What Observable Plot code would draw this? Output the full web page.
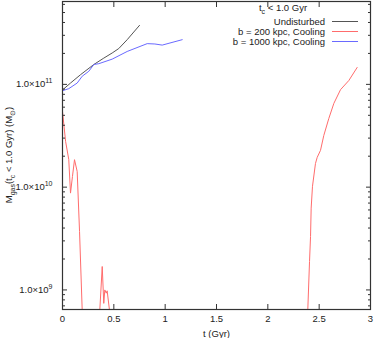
<!DOCTYPE html>
<html><head><meta charset="utf-8">
<script src="https://cdn.jsdelivr.net/npm/d3@7"></script>
<script src="https://cdn.jsdelivr.net/npm/@observablehq/plot@0.6"></script>
<style>body{margin:0;background:#fff} svg{display:block}</style>
</head><body><div id="chart"></div>
<script>
// ---- data ----
const undisturbedT = [0.003, 0.078, 0.175, 0.305, 0.402, 0.484, 0.548, 0.63, 0.75];
const undisturbedM = [8.87e10, 1.03e11, 1.24e11, 1.56e11, 1.80e11, 2.02e11, 2.23e11, 2.72e11, 3.75e11];

const b1000T = [0.003, 0.061, 0.143, 0.192, 0.256, 0.305, 0.354, 0.484, 0.63, 0.825, 0.90, 0.971, 1.166];
const b1000M = [8.69e10, 9.08e10, 1.03e11, 1.20e11, 1.34e11, 1.56e11, 1.59e11, 1.76e11, 2.09e11, 2.49e11, 2.47e11, 2.41e11, 2.72e11];

const b200T = [0, 0.03, 0.061, 0.078, 0.097, 0.117, 0.143, 0.166, 0.192, 0.2, 0.355, 0.363, 0.387, 0.402, 0.412, 0.426, 0.435, 0.458, 0.466, 2.38, 2.389, 2.406, 2.416, 2.422, 2.435, 2.464, 2.481, 2.513, 2.545, 2.594, 2.643, 2.708, 2.789, 2.870];
const b200M = [5.46e10, 2.79e10, 1.86e10, 8.75e9, 1.27e10, 1.85e10, 1.42e10, 3.71e9, 6.3e8, 1e8, 1e8, 6.3e8, 1.69e9, 7.4e8, 1.0e9, 9.3e8, 9.8e8, 6.3e8, 1e8, 1e8, 6.3e8, 1.89e9, 3.31e9, 6.25e9, 1.02e10, 1.70e10, 1.95e10, 2.28e10, 3.18e10, 4.66e10, 6.53e10, 8.88e10, 1.09e11, 1.46e11];

const seriesNames = ["Undisturbed", "b = 200 kpc, Cooling", "b = 1000 kpc, Cooling"];
const seriesColors = ["#555555", "#ff6c6c", "#6a6aff"];
const legendTitle = "t_c < 1.0 Gyr";

const xTicks = [0, 0.5, 1, 1.5, 2, 2.5, 3];
const yMajorTicks = [1e9, 1e10, 1e11];
const yDomain = [6.45e8, 6.4e11];
const xDomain = [0, 3];

// ---- build ----
const toRows = (T, M, s) => T.map((t, i) => ({t, m: M[i], s}));
const rows = [
  ...toRows(undisturbedT, undisturbedM, seriesNames[0]),
  ...toRows(b200T, b200M, seriesNames[1]),
  ...toRows(b1000T, b1000M, seriesNames[2])
];
const yMinor = [];
for (let e = 8; e <= 11; e++) for (let k = 2; k <= 9; k++) {
  const v = k * Math.pow(10, e);
  if (v > yDomain[0] && v < yDomain[1]) yMinor.push(v);
}

const font = "'Liberation Sans', Arial, Helvetica, sans-serif";
const plot = Plot.plot({
  width: 374, height: 338,
  marginLeft: 62, marginRight: 4, marginTop: 1, marginBottom: 29,
  style: {fontFamily: font, fontSize: "9.5px", color: "#222", background: "#fff"},
  x: {domain: xDomain},
  y: {type: "log", domain: yDomain},
  color: {domain: seriesNames, range: seriesColors},
  marks: [
    Plot.line(rows, {x: "t", y: "m", z: "s", stroke: "s", strokeWidth: 1, clip: true}),
    Plot.axisX({ticks: xTicks, tickSize: 0, tickPadding: 6, tickFormat: d => String(d),
      label: "t (Gyr)", labelAnchor: "center", labelOffset: 27, labelArrow: "none"}),
    Plot.axisY({ticks: yMajorTicks, tickSize: 0, tickPadding: 10, label: null,
      tickFormat: d => "1.0×10^" + Math.round(Math.log10(d))}),
    Plot.axisX({ticks: xTicks, tickSize: -5, fill: "none", label: null, stroke: "#333"}),
    Plot.axisX({anchor: "top", ticks: xTicks, tickSize: -5, fill: "none", label: null, stroke: "#333"}),
    Plot.axisY({ticks: yMajorTicks, tickSize: -5, fill: "none", label: null, stroke: "#333"}),
    Plot.axisY({anchor: "right", ticks: yMajorTicks, tickSize: -5, fill: "none", label: null, stroke: "#333"}),
    Plot.axisY({ticks: yMinor, tickSize: -3, fill: "none", label: null, stroke: "#333"}),
    Plot.axisY({anchor: "right", ticks: yMinor, tickSize: -3, fill: "none", label: null, stroke: "#333"}),
    Plot.frame({stroke: "#333", strokeWidth: 1.2})
  ]
});
document.getElementById("chart").appendChild(plot);

const svg = d3.select(plot);

svg.selectAll("text").each(function() {
  const el = d3.select(this);
  const m = /^1\.0×10\^(\d+)$/.exec(el.text());
  if (m) {
    el.text("");
    el.append("tspan").text("1.0×10");
    el.append("tspan").attr("dy", "-4").attr("font-size", "7px").text(m[1]);
  }
});

function rich(sel, parts) {
  let shifted = false;
  parts.forEach(([t, kind]) => {
    const ts = sel.append("tspan").text(t);
    if (kind === "sub" && !shifted) { ts.attr("dy", 2.5).attr("font-size", "7px"); shifted = true; }
    else if (kind !== "sub" && shifted) { ts.attr("dy", -2.5); shifted = false; }
  });
}

const yl = svg.append("text")
  .attr("transform", "translate(12,155) rotate(-90)")
  .attr("text-anchor", "middle").attr("fill", "#222")
  .attr("font-family", font).attr("font-size", "9.5px");
rich(yl, [["M", "n"], ["gas", "sub"], ["(t", "n"], ["c", "sub"], [" < 1.0 Gyr) (M", "n"], ["⊙", "sub"], [")", "n"]]);

const lg = svg.append("g").attr("font-family", font).attr("font-size", "9.5px");
const tl = lg.append("text").attr("x", 283).attr("y", 11).attr("text-anchor", "middle").attr("fill", "#222");
const tparts = legendTitle.split("_");
rich(tl, [[tparts[0], "n"], [tparts[1][0], "sub"], ["\u00a0" + tparts[1].slice(1).trim(), "n"]]);
seriesNames.forEach((name, i) => {
  const y = 21.5 + i * 10;
  lg.append("text").attr("x", 325).attr("y", y + 3.4).attr("text-anchor", "end").attr("fill", "#222").text(name);
  lg.append("line").attr("x1", 332).attr("x2", 358).attr("y1", y).attr("y2", y)
    .style("stroke", seriesColors[i]).style("stroke-width", "1px").style("fill", "none");
});
</script>
</body></html>
